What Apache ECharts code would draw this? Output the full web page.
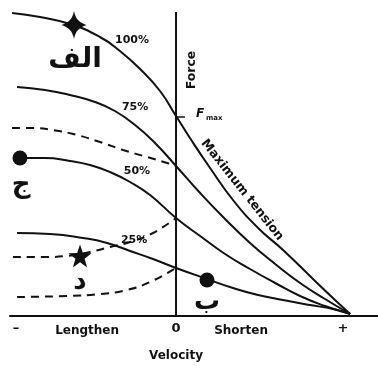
<!DOCTYPE html>
<html><head><meta charset="utf-8">
<script src="https://cdn.jsdelivr.net/npm/echarts@6/dist/echarts.min.js"></script>
<style>html,body{margin:0;padding:0;background:#fff}#c{width:378px;height:366px}</style>
</head><body><div id="c"></div>
<script>
// Solid force-velocity curves (velocity: -1 lengthen ... +1 shorten, force relative to Fmax)
const vel100   = [-0.953,-0.791,-0.616,-0.442,-0.326,-0.209,-0.093,0,0.081,0.198,0.331,0.477,0.622,0.82,0.924,1.012];
const force100 = [1.515,1.495,1.46,1.395,1.325,1.235,1.125,1.0,0.89,0.74,0.58,0.44,0.33,0.165,0.08,0.01];
const vel75    = [-0.924,-0.762,-0.616,-0.471,-0.355,-0.238,-0.122,0,0.14,0.285,0.43,0.576,0.721,0.866,1.012];
const force75  = [1.145,1.13,1.105,1.07,1.025,0.955,0.865,0.75,0.615,0.485,0.365,0.26,0.165,0.085,0.01];
const vel50    = [-0.907,-0.762,-0.616,-0.5,-0.384,-0.267,-0.151,0,0.14,0.285,0.43,0.576,0.721,0.866,1.012];
const force50  = [0.79,0.79,0.775,0.755,0.72,0.67,0.605,0.49,0.40,0.31,0.235,0.165,0.10,0.05,0.01];
const vel25    = [-0.924,-0.733,-0.541,-0.401,-0.267,-0.134,0,0.18,0.331,0.477,0.622,0.779,0.913,1.012];
const force25  = [0.415,0.41,0.39,0.365,0.325,0.285,0.24,0.185,0.14,0.105,0.08,0.055,0.035,0.012];
// Dashed lengthening curves
const velD75   = [-0.953,-0.849,-0.715,-0.576,-0.442,-0.308,-0.169,-0.052,0];
const forceD75 = [0.94,0.94,0.93,0.905,0.87,0.83,0.795,0.765,0.75];
const velD50   = [-0.948,-0.762,-0.634,-0.5,-0.384,-0.267,-0.134,0];
const forceD50 = [0.295,0.295,0.30,0.32,0.345,0.37,0.415,0.49];
const velD25   = [-0.924,-0.634,-0.442,-0.285,-0.151,0];
const forceD25 = [0.095,0.10,0.11,0.13,0.17,0.24];
// Markers
const sparklePt = [-0.593,1.455];
const dotPts    = [[-0.907,0.79],[0.18,0.18]];
const starPt    = [-0.558,0.30];
// Labels
const pctLabels = ['100%','75%','50%','25%'];
const pctPos    = [[-0.256,1.38],[-0.238,1.045],[-0.227,0.725],[-0.244,0.38]];
const arabicLabels = ['الف','ج','د','ب'];
const arabicPos    = [[-0.587,1.28],[-0.901,0.655],[-0.558,0.17],[0.18,0.07]];
const tickLabels = ['–','0','+'];
const tickVals   = [-0.93,0,0.97];
const axisTexts  = {lengthen:'Lengthen', shorten:'Shorten', velocity:'Velocity', force:'Force', maxT:'Maximum tension'};

const zip = (a,b)=>a.map((v,i)=>[v,b[i]]);
const INK = '#111';
const FONT = '"DejaVu Sans", sans-serif';

function curve(v,f,dashed){
  return {type:'line', data:zip(v,f), smooth:0.5, showSymbol:false, silent:true,
    lineStyle:{color:INK,width:2,type: dashed?[8,6]:'solid'}, z:3};
}
function txt(pos,text,opt){
  return {value:pos, label:Object.assign({show:true, formatter:text, position:'inside',
    align:'center', verticalAlign:'middle', color:INK, opacity:1, fontFamily:FONT, fontWeight:'bold', fontSize:11}, opt||{})};
}

const textData = [];
pctLabels.forEach((t,i)=>textData.push(txt(pctPos[i],t,{fontSize:11})));
arabicLabels.forEach((t,i)=>textData.push(txt(arabicPos[i],t,{fontSize:i===0?28:26})));
tickLabels.forEach((t,i)=>textData.push(txt([tickVals[i],-0.065],t,{fontSize:13})));
textData.push(txt([-0.517,-0.075],axisTexts.lengthen,{fontSize:12}));
textData.push(txt([0.378,-0.075],axisTexts.shorten,{fontSize:12}));
textData.push(txt([0,-0.2],axisTexts.velocity,{fontSize:12}));
textData.push(txt([0.093,1.23],axisTexts.force,{fontSize:12.5,rotate:90}));
textData.push(txt([0.384,0.63],axisTexts.maxT,{fontSize:12.5,rotate:-51.7}));
textData.push(txt([0.14,1.01],'F',{fontSize:12,fontStyle:'italic'}));
textData.push(txt([0.222,0.99],'max',{fontSize:7}));

const chart = echarts.init(document.getElementById('c'),null,{renderer:'canvas'});
chart.setOption({
  animation:false,
  backgroundColor:'#fff',
  grid:{left:10,right:0,top:0,bottom:0},
  xAxis:{type:'value',min:-0.965,max:1.174,
    axisLine:{show:true,onZero:true,lineStyle:{color:INK,width:2}},
    axisTick:{show:false},axisLabel:{show:false},splitLine:{show:false}},
  yAxis:{type:'value',min:-0.25,max:1.58,
    axisLine:{show:false},axisTick:{show:false},axisLabel:{show:false},splitLine:{show:false}},
  series:[
    {type:'line',data:[[0,0],[0,1.52]],showSymbol:false,silent:true,lineStyle:{color:INK,width:2}},
    {type:'line',data:[[0,0.995],[0.052,0.995]],showSymbol:false,silent:true,lineStyle:{color:INK,width:1.5}},
    curve(vel100,force100,false),
    curve(vel75,force75,false),
    curve(vel50,force50,false),
    curve(vel25,force25,false),
    curve(velD75,forceD75,true),
    curve(velD50,forceD50,true),
    curve(velD25,forceD25,true),
    {type:'scatter',silent:true,z:5,data:[sparklePt],symbolSize:[25,28],
      symbol:'path://M50,0 C57,30 70,40 100,50 C70,60 57,70 50,100 C43,70 30,60 0,50 C30,40 43,30 50,0 Z',
      itemStyle:{color:INK,opacity:1}},
    {type:'scatter',silent:true,z:5,data:dotPts,symbol:'circle',symbolSize:15,itemStyle:{color:INK,opacity:1}},
    {type:'scatter',silent:true,z:5,data:[starPt],symbolSize:23,
      symbol:'path://M50,0 L61.8,33.8 L97.6,34.5 L69,56.2 L79.4,90.5 L50,70 L20.6,90.5 L31,56.2 L2.4,34.5 L38.2,33.8 Z',
      itemStyle:{color:INK,opacity:1}},
    {type:'scatter',silent:true,z:6,symbolSize:0,data:textData,clip:false,itemStyle:{opacity:1}}
  ]
});
</script></body></html>
